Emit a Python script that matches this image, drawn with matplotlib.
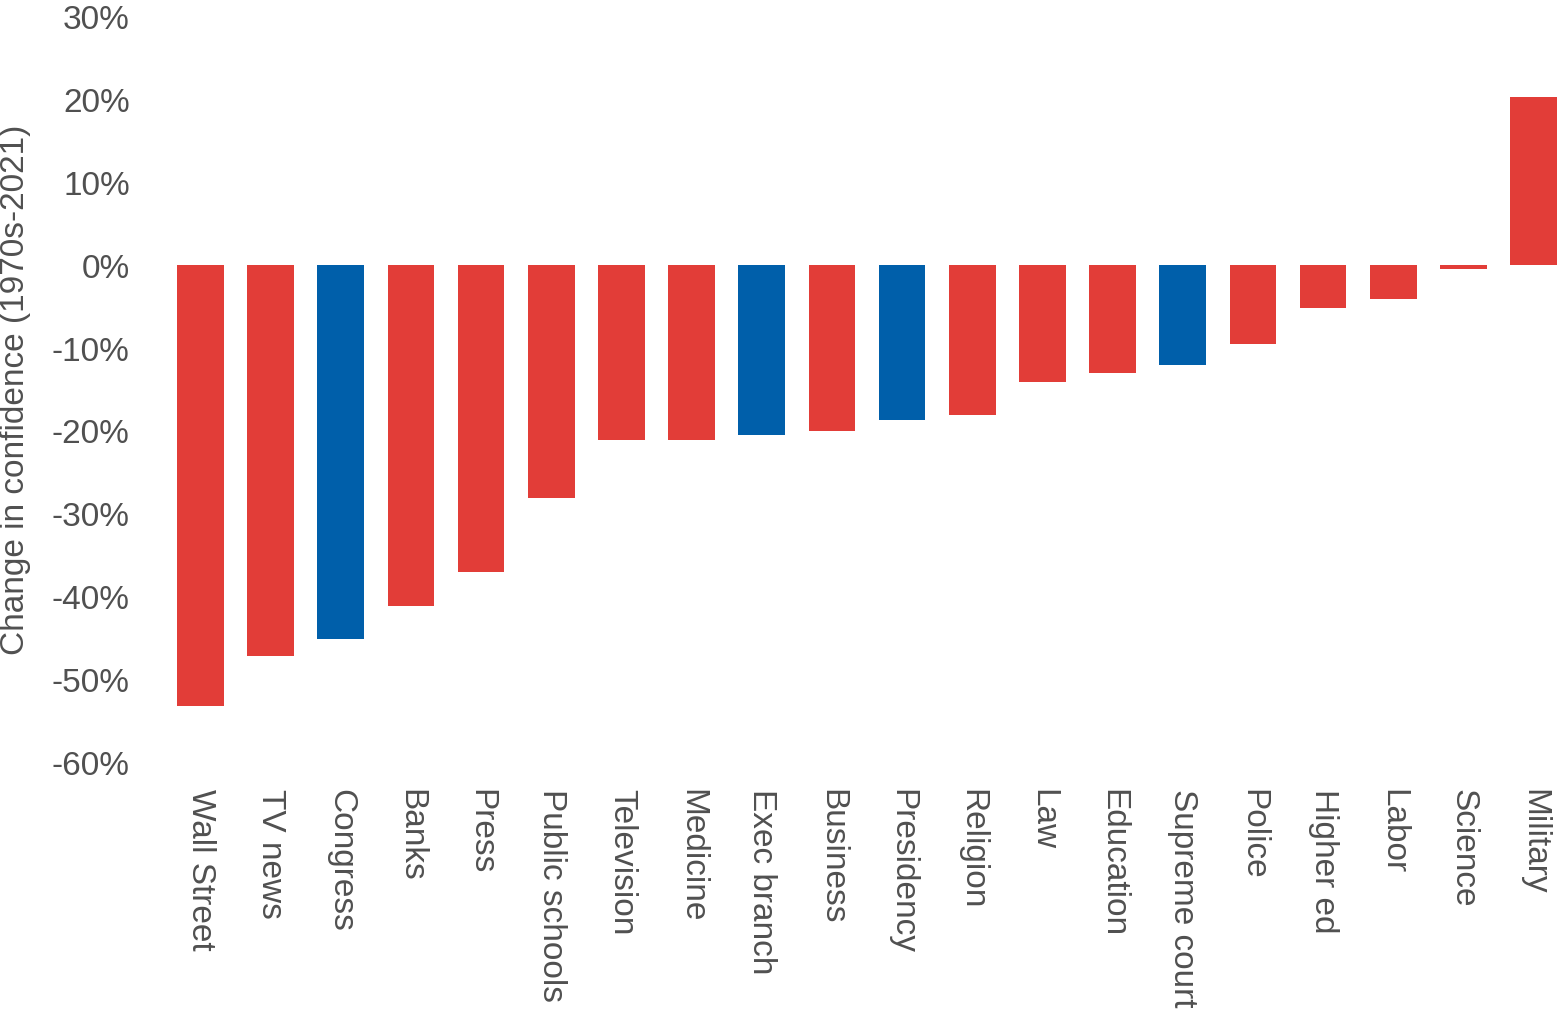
import matplotlib
matplotlib.use("Agg")
import matplotlib.pyplot as plt
from matplotlib.ticker import FuncFormatter

plt.rcParams['font.family'] = ['Liberation Sans', 'DejaVu Sans']

# %% Data
institutions = ['Wall Street', 'TV news', 'Congress', 'Banks', 'Press', 'Public schools',
                'Television', 'Medicine', 'Exec branch', 'Business', 'Presidency', 'Religion',
                'Law', 'Education', 'Supreme court', 'Police', 'Higher ed', 'Labor',
                'Science', 'Military']
change_pct = [-53.2, -47.2, -45.2, -41.2, -37.1, -28.2,
              -21.2, -21.2, -20.6, -20.1, -18.7, -18.1,
              -14.1, -13.1, -12.1, -9.6, -5.2, -4.1,
              -0.5, 20.2]
government = ['Congress', 'Exec branch', 'Presidency', 'Supreme court']

red = '#E23D38'
blue = '#005FAA'
txt = '#505050'

# %% Plot
fig = plt.figure(figsize=(15.6, 10.2), dpi=100)
ax = fig.add_axes([177 / 1560, (1020 - 763) / 1020, (1557 - 177) / 1560, (763 - 17) / 1020])

colors = [blue if name in government else red for name in institutions]
ax.bar(range(len(institutions)), change_pct, width=0.665, color=colors)

ax.set_xlim(-0.335, len(institutions) - 1 + 0.335)
ax.set_ylim(-60, 30)
ax.set_yticks(range(-60, 31, 10))
ax.yaxis.set_major_formatter(FuncFormatter(lambda v, p: f'{v:.0f}%'))
ax.set_xticks(range(len(institutions)))
ax.set_xticklabels(institutions, rotation=270, va='top', ha='center')

for s in ax.spines.values():
    s.set_visible(False)
ax.tick_params(axis='both', length=0, labelsize=24, colors=txt)
ax.tick_params(axis='y', pad=34)
ax.tick_params(axis='x', pad=19)

ax.set_ylabel('Change in confidence (1970s-2021)', fontsize=24, color=txt)
ax.yaxis.set_label_coords(-0.1058, 0.5)

fig.savefig('out.png', dpi=100)
